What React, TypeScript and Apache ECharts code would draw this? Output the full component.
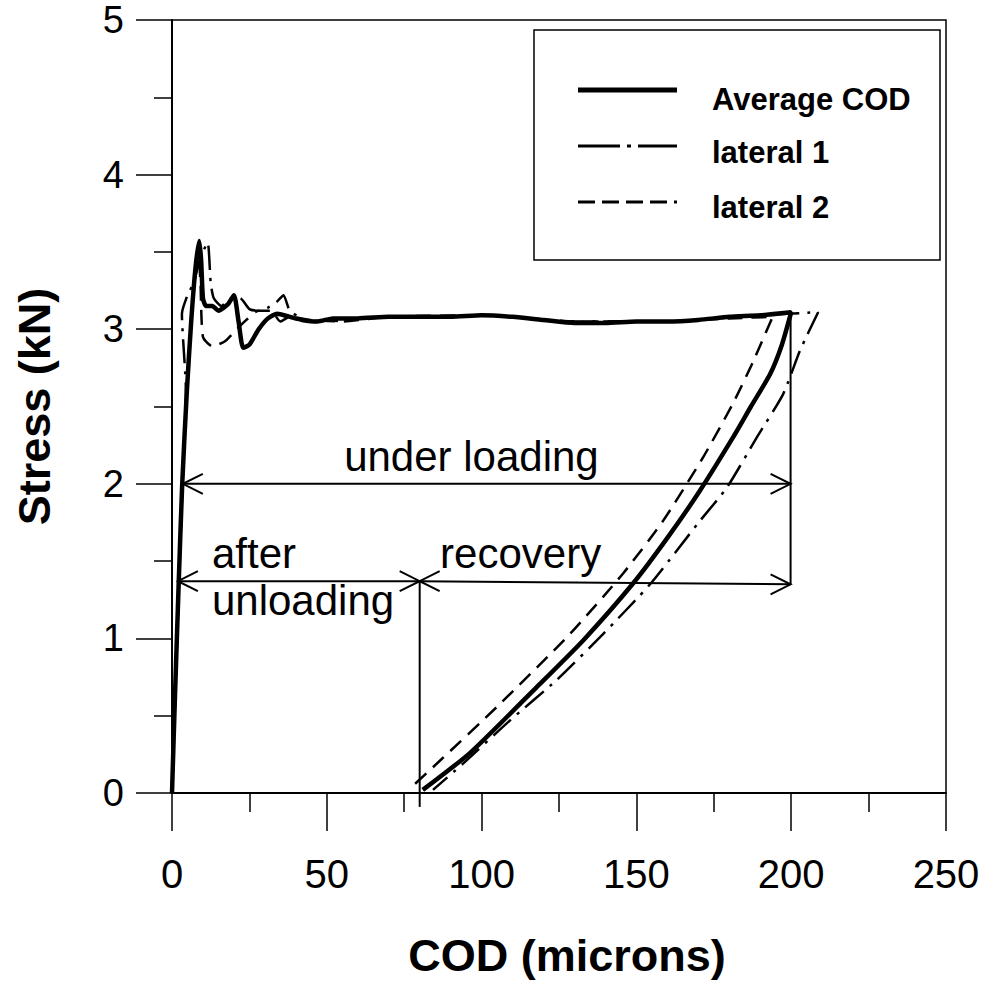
import React, { useEffect, useRef } from "react";
import * as echarts from "echarts";

// ---------- data ----------
const xTickValues = [0, 50, 100, 150, 200, 250];
const yTickValues = [0, 1, 2, 3, 4, 5];

const seriesNames = ["Average COD", "lateral 1", "lateral 2"];

// Average COD: loading, plateau, then unloading back to zero
const avgX = [0, 1, 2.2, 3.3, 4.8, 6.2, 7.6, 8.8, 9.4, 10, 11, 13, 15, 18, 20, 21.5, 23, 25, 28, 31, 34, 38, 42, 47, 52, 60, 70, 80, 90, 100, 110, 120, 130, 140, 150, 160, 170, 180, 190, 200,
  197, 193.2, 187, 181.2, 170.5, 160, 148.9, 132.8, 117.8, 96.3, 81];
const avgY = [0, 0.65, 1.38, 2.0, 2.6, 3.05, 3.4, 3.57, 3.45, 3.2, 3.15, 3.15, 3.12, 3.16, 3.22, 3.05, 2.88, 2.9, 3.0, 3.07, 3.1, 3.08, 3.06, 3.05, 3.07, 3.07, 3.08, 3.08, 3.08, 3.09, 3.08, 3.06, 3.04, 3.04, 3.05, 3.05, 3.06, 3.08, 3.09, 3.11,
  2.9, 2.71, 2.5, 2.3, 1.955, 1.65, 1.355, 0.987, 0.685, 0.26, 0.02];

// lateral 1 (dash-dot)
const lat1X = [0, 1.1, 2.3, 3.4, 4.5, 3.2, 5, 7, 9, 11.5, 12.5, 13.5, 16, 19, 22, 25, 28, 31, 34, 36, 38, 41, 45, 50, 55, 60, 80, 100, 130, 160, 190, 208.7,
  202.8, 197.4, 188.9, 179.2, 170.5, 154.4, 139.3, 124.2, 109.2, 94, 84.3];
const lat1Y = [0, 0.65, 1.38, 2.0, 2.6, 3.1, 3.22, 3.3, 3.45, 3.56, 3.3, 3.2, 3.15, 3.2, 3.2, 3.13, 3.12, 3.14, 3.18, 3.22, 3.12, 3.08, 3.05, 3.06, 3.05, 3.07, 3.08, 3.09, 3.05, 3.05, 3.09, 3.11,
  2.86, 2.58, 2.3, 1.975, 1.76, 1.35, 1.03, 0.73, 0.47, 0.19, 0.02];

// lateral 2 (dashed)
const lat2X = [0, 1, 2.2, 3.3, 4.8, 6, 7.5, 8.5, 9.2, 10, 13, 17, 20, 24, 28, 32, 35, 38, 45, 55, 70, 100, 130, 160, 180, 194,
  187.7, 181.2, 171.5, 158.6, 145.7, 128.6, 104.9, 86.6, 78];
const lat2Y = [0, 0.65, 1.38, 2.0, 2.6, 3.0, 3.35, 3.5, 3.3, 2.95, 2.89, 2.92, 2.98, 3.06, 3.12, 3.12, 3.05, 3.08, 3.06, 3.05, 3.08, 3.09, 3.05, 3.05, 3.07, 3.08,
  2.79, 2.52, 2.17, 1.76, 1.42, 1.03, 0.556, 0.21, 0.05];

// annotation texts and their anchors (data coords: left x, baseline y)
const annotationTexts = ["under loading", "after", "unloading", "recovery"];
const annotationAnchors: number[][] = [[55.6, 2.084], [12.9, 1.458], [12.9, 1.148], [86.6, 1.452]];
// arrows: [from, to]
const arrowSegments: number[][][] = [
  [[3.5, 2.0], [199.8, 2.0]],
  [[1.9, 1.37], [80, 1.37]],
  [[80, 1.37], [199.8, 1.35]],
];
const guideLines: number[][][] = [
  [[80, 1.37], [80, -0.09]],
  [[199.8, 3.1], [199.8, 1.35]],
];

const zip = (xs: number[], ys: number[]) => xs.map((x, i) => [x, ys[i]]);

const FONT = '"Liberation Sans", Arial, Helvetica, sans-serif';

export default function App() {
  const ref = useRef<HTMLDivElement>(null);

  useEffect(() => {
    const chart = echarts.init(ref.current!, null, { renderer: "svg" });
    const axisCommon = {
      axisLine: { show: true, onZero: false, lineStyle: { color: "#000", width: 2 } },
      splitLine: { show: false },
    };
    chart.setOption({
      animation: false,
      backgroundColor: "#fff",
      grid: {
        left: 172, right: 44, top: 20, bottom: 211,
        show: true, borderColor: "#000", borderWidth: 1.5, backgroundColor: "transparent",
      },
      xAxis: {
        type: "value", min: xTickValues[0], max: xTickValues[xTickValues.length - 1], interval: 50,
        ...axisCommon,
        axisTick: { show: true, inside: false, length: 38, lineStyle: { color: "#000", width: 1.5 } },
        minorTick: { show: true, splitNumber: 2, length: 19, lineStyle: { color: "#000", width: 1.5 } },
        axisLabel: { margin: 61, fontSize: 40, color: "#000", fontFamily: FONT },
        name: "COD (microns)", nameLocation: "middle", nameGap: 140,
        nameTextStyle: { fontSize: 45, fontWeight: "bold", color: "#000", fontFamily: FONT, padding: [0, 0, 0, 16] },
      },
      yAxis: {
        type: "value", min: yTickValues[0], max: yTickValues[yTickValues.length - 1], interval: 1,
        ...axisCommon,
        axisTick: { show: true, inside: false, length: 36, lineStyle: { color: "#000", width: 1.5 } },
        minorTick: { show: true, splitNumber: 2, length: 18, lineStyle: { color: "#000", width: 1.5 } },
        axisLabel: { margin: 48, fontSize: 38, color: "#000", fontFamily: FONT, padding: [6, 0, 0, 0] },
        name: "Stress (kN)", nameLocation: "middle", nameGap: 115, nameRotate: 90,
        nameTextStyle: { fontSize: 45, fontWeight: "bold", color: "#000", fontFamily: FONT },
      },
      series: [
        { name: seriesNames[1], type: "line", data: zip(lat1X, lat1Y), symbol: "none", z: 2, smooth: 0.2,
          lineStyle: { color: "#000", width: 2.5, type: [24, 8, 3, 8] } },
        { name: seriesNames[2], type: "line", data: zip(lat2X, lat2Y), symbol: "none", z: 2, smooth: 0.2,
          lineStyle: { color: "#000", width: 2.5, type: [15, 9] } },
        { name: seriesNames[0], type: "line", data: zip(avgX, avgY), symbol: "none", z: 3, smooth: 0.2,
          lineStyle: { color: "#000", width: 4.5, type: "solid" } },
      ],
    });

    const px = (p: number[]) => chart.convertToPixel({ gridIndex: 0 } as any, p) as number[];
    const graphics: any[] = [];

    // arrows
    const head = (tip: number[], dir: number) => ({
      type: "polyline",
      shape: { points: [[tip[0] + dir * 20, tip[1] - 10], tip, [tip[0] + dir * 20, tip[1] + 10]] },
      style: { stroke: "#000", lineWidth: 2, fill: "none" },
      z: 10,
    });
    arrowSegments.forEach(([a, b]) => {
      const pa = px(a), pb = px(b);
      graphics.push({ type: "line", shape: { x1: pa[0], y1: pa[1], x2: pb[0], y2: pb[1] }, style: { stroke: "#000", lineWidth: 2 }, z: 10 });
      graphics.push(head(pa, 1));
      graphics.push(head(pb, -1));
    });
    guideLines.forEach(([a, b]) => {
      const pa = px(a), pb = px(b);
      graphics.push({ type: "line", shape: { x1: pa[0], y1: pa[1], x2: pb[0], y2: pb[1] }, style: { stroke: "#000", lineWidth: 2 }, z: 10 });
    });
    annotationTexts.forEach((t, i) => {
      const p = px(annotationAnchors[i]);
      graphics.push({
        type: "text", x: p[0], y: p[1] - 0.3465 * 42, z: 10,
        style: { text: t, font: `42px ${FONT}`, fill: "#000", align: "left", verticalAlign: "middle" },
      });
    });

    // legend box
    graphics.push({ type: "rect", shape: { x: 534, y: 30, width: 406, height: 230 }, style: { fill: "#fff", stroke: "#000", lineWidth: 1.5 }, z: 20 });
    const legendRows = [
      { y: 90, ty: 99, width: 5, dash: null as any },
      { y: 146, ty: 152.5, width: 3, dash: [42, 7, 4, 7] },
      { y: 202, ty: 207.5, width: 3, dash: [17, 7] },
    ];
    legendRows.forEach((r, i) => {
      graphics.push({
        type: "line", shape: { x1: 578, y1: r.y, x2: 677, y2: r.y }, z: 21,
        style: { stroke: "#000", lineWidth: r.width, lineDash: r.dash || undefined },
      });
      graphics.push({
        type: "text", x: 712, y: r.ty, z: 21,
        style: { text: seriesNames[i], font: `bold 31px ${FONT}`, fill: "#000", align: "left", verticalAlign: "middle" },
      });
    });

    chart.setOption({ graphic: graphics });

    return () => chart.dispose();
  }, []);

  return (
    <div
      ref={ref}
      style={{ position: "fixed", left: 0, top: 0, width: 990, height: 1004, background: "#fff" }}
    />
  );
}
